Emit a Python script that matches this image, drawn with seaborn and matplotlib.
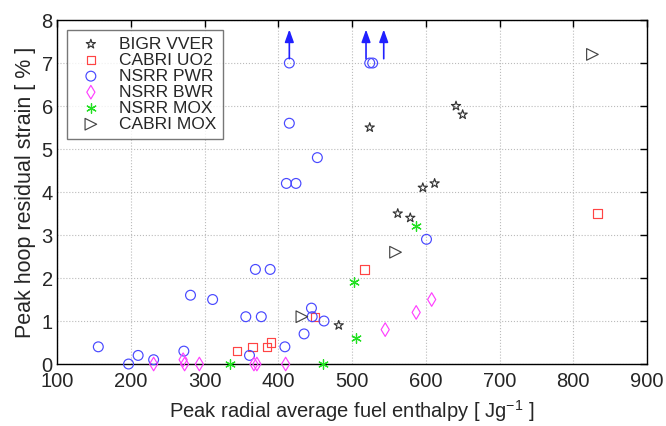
import matplotlib
matplotlib.use("Agg")
import matplotlib.pyplot as plt
import seaborn as sns
import pandas as pd

# ---- data ----
bigr_x = [524, 641, 650, 596, 612, 562, 579, 482]
bigr_y = [5.5, 6.0, 5.8, 4.1, 4.2, 3.5, 3.4, 0.9]

cabri_uo2_x = [344, 365, 385, 390, 450, 517, 833]
cabri_uo2_y = [0.3, 0.4, 0.4, 0.5, 1.1, 2.2, 3.5]

nsrr_pwr_x = [156, 197, 210, 231, 272, 281, 311, 356, 361, 369, 377, 389, 409,
              411, 415, 415, 424, 435, 445, 446, 453, 462, 524, 528, 601]
nsrr_pwr_y = [0.4, 0.0, 0.2, 0.1, 0.3, 1.6, 1.5, 1.1, 0.2, 2.2, 1.1, 2.2, 0.4,
              4.2, 5.6, 7.0, 4.2, 0.7, 1.3, 1.1, 4.8, 1.0, 7.0, 7.0, 2.9]

nsrr_bwr_x = [231, 271, 273, 293, 367, 371, 410, 545, 587, 608]
nsrr_bwr_y = [0.0, 0.1, 0.0, 0.0, 0.0, 0.0, 0.0, 0.8, 1.2, 1.5]

nsrr_mox_x = [335, 461, 503, 506, 587]
nsrr_mox_y = [0.0, 0.0, 1.9, 0.6, 3.2]

cabri_mox_x = [432, 559, 826]
cabri_mox_y = [1.1, 2.6, 7.2]

arrow_x = [415, 519, 543]
arrow_y0 = 7.1
arrow_y1 = 7.78

x_ticks = [100, 200, 300, 400, 500, 600, 700, 800, 900]
y_ticks = [0, 1, 2, 3, 4, 5, 6, 7, 8]

series = [
    ("BIGR VVER", bigr_x, bigr_y, "*", "#333333", 48, False),
    ("CABRI UO2", cabri_uo2_x, cabri_uo2_y, "s", "#ff4444", 36, False),
    ("NSRR PWR", nsrr_pwr_x, nsrr_pwr_y, "o", "#4848ff", 50, False),
    ("NSRR BWR", nsrr_bwr_x, nsrr_bwr_y, "d", "#ff40ff", 48, False),
    ("NSRR MOX", nsrr_mox_x, nsrr_mox_y, (6, 2, 0), "#22e022", 48, True),
    ("CABRI MOX", cabri_mox_x, cabri_mox_y, ">", "#444444", 70, False),
]

sns.set_style("white")
plt.rcParams["font.family"] = ["Liberation Sans", "DejaVu Sans"]
plt.rcParams["mathtext.fontset"] = "custom"
plt.rcParams["mathtext.rm"] = "Liberation Sans"
plt.rcParams["mathtext.it"] = "Liberation Sans"

fig = plt.figure(figsize=(6.66, 4.26), dpi=100)
ax = fig.add_axes([0.0856, 0.1455, 0.8859, 0.8075])

for name, xs, ys, mk, col, s, unfilled in series:
    df = pd.DataFrame({"x": xs, "y": ys})
    if unfilled:
        sns.scatterplot(data=df, x="x", y="y", marker=mk, s=s, color=col,
                        linewidth=0.9, ax=ax, label=name, clip_on=False, zorder=3)
    else:
        sns.scatterplot(data=df, x="x", y="y", marker=mk, s=s,
                        facecolor="none", edgecolor=col, linewidth=0.85,
                        ax=ax, label=name, clip_on=False, zorder=3)

for ax_x in arrow_x:
    ax.annotate("", xy=(ax_x, arrow_y1), xytext=(ax_x, arrow_y0),
                arrowprops=dict(arrowstyle="-|>,head_length=0.75,head_width=0.27",
                                color="#2020ff", lw=1.2, shrinkA=0, shrinkB=0))

ax.set_xlim(100, 900)
ax.set_ylim(0, 8)
ax.set_xticks(x_ticks)
ax.set_yticks(y_ticks)
ax.tick_params(direction="in", length=5, width=1, top=True, right=True,
               labelsize=14.5, color="black")
ax.tick_params(axis="x", pad=5.5)
ax.tick_params(axis="y", pad=3)
for sp in ax.spines.values():
    sp.set_color("black")
    sp.set_linewidth(1.0)
ax.grid(True, linestyle=":", color="#bbbbbb", linewidth=0.8)
ax.set_axisbelow(True)

ax.set_xlabel("Peak radial average fuel enthalpy [ Jg$^{-1}$ ]", fontsize=14.5, labelpad=5)
ax.set_ylabel("Peak hoop residual strain [ % ]", fontsize=15.5, labelpad=4)

leg = ax.legend(loc="upper left", fontsize=12.5, frameon=True, fancybox=False,
                edgecolor="#555555", handlelength=2.0, handletextpad=0.6,
                labelspacing=0.05, borderpad=0.4, borderaxespad=0.55)
leg.get_frame().set_linewidth(1.0)

fig.savefig("out.png", dpi=100)
